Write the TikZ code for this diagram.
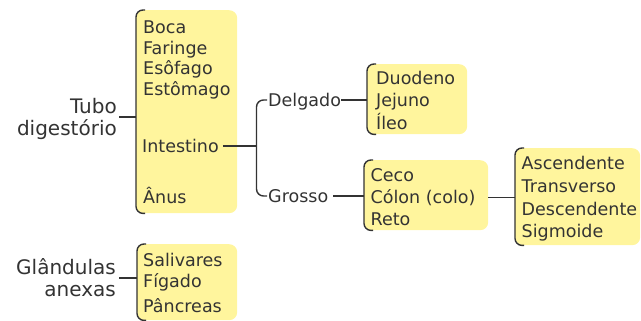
\documentclass[tikz,border=0pt]{standalone}
\usepackage{fontspec}
\setmainfont{DejaVu Sans}
\usetikzlibrary{calc}
\definecolor{boxyellow}{HTML}{FFF59D}
\definecolor{ink}{HTML}{333333}
\begin{document}
\begin{tikzpicture}[x=1pt,y=-1pt,
  ybox/.style={fill=boxyellow, rounded corners=8pt, inner sep=0pt, anchor=north west},
  brk/.style={draw=ink, line width=1.4pt, rounded corners=7pt},
  conn/.style={draw=ink, line width=1.4pt},
  txt/.style={anchor=west, inner sep=0pt, text height=12.8pt, text depth=0pt, text=ink, font=\fontsize{17.5}{20}\selectfont},
  lbl/.style={anchor=east, inner sep=0pt, text height=14.6pt, text depth=0pt, text=ink, font=\fontsize{20}{22}\selectfont}]
\useasboundingbox (0,0) rectangle (641,321);

% boxes
\node[ybox, minimum width=101pt, minimum height=203pt] (b1) at (136,10) {};
\node[ybox, minimum width=100pt, minimum height=70pt] (b2) at (367,64) {};
\node[ybox, minimum width=124pt, minimum height=70pt] (b3) at (364,160) {};
\node[ybox, minimum width=125pt, minimum height=97pt] (b4) at (515,148) {};
\node[ybox, minimum width=100pt, minimum height=76pt] (b5) at (137,244) {};

\foreach \b in {b1,b2,b3,b4,b5}{
  \draw[brk] ([xshift=9pt]\b.north west) -- (\b.north west) -- (\b.south west) -- ([xshift=9pt]\b.south west);
}

% box 1 texts
\node[txt] (boca) at (143,26.7) {Boca};
\node[txt] (far) at (143,47.7) {Faringe};
\node[txt] (eso) at (143,68.5) {Esôfago};
\node[txt] (est) at (143,89.3) {Estômago};
\node[txt] (int) at (142,146.2) {Intestino};
\node[txt] (anus) at (143,196.7) {Ânus};

% labels
\node[lbl] (tubo1) at (117,106) {Tubo};
\node[lbl] (tubo2) at (117,128) {digestório};
\node[lbl] (gla1) at (116,267) {Glândulas};
\node[lbl] (gla2) at (116,289) {anexas};

% intestine branches
\node[txt] (del) at (268,100) {Delgado};
\node[txt] (gro) at (268,196) {Grosso};

% box 2
\node[txt] (duo) at (376,78) {Duodeno};
\node[txt] (jej) at (376,100.5) {Jejuno};
\node[txt] (ile) at (376,123) {Íleo};

% box 3
\node[txt] (ceco) at (370.5,175.5) {Ceco};
\node[txt] (colon) at (370.5,197.5) {Cólon (colo)};
\node[txt] (reto) at (370.5,219.5) {Reto};

% box 4
\node[txt] (asc) at (521.5,163) {Ascendente};
\node[txt] (tra) at (521.5,186) {Transverso};
\node[txt] (des) at (521.5,209) {Descendente};
\node[txt] (sig) at (521.5,231.5) {Sigmoide};

% box 5
\node[txt] (sal) at (143,259.7) {Salivares};
\node[txt] (fig) at (143,281.5) {Fígado};
\node[txt] (pan) at (143,305.7) {Pâncreas};

% connectors
\coordinate (tubom) at ($(tubo1.south east)!0.5!(tubo2.north east)$);
\draw[conn] ([xshift=2pt]tubom) -- (tubom -| b1.west);
\coordinate (glam) at ($(gla1.south east)!0.5!(gla2.north east)$);
\draw[conn] ([xshift=3pt]glam) -- (glam -| b5.west);

\coordinate (fork) at (256.5,146.2);
\draw[conn] ([xshift=4pt]int.east) -- (int.east -| fork);
\draw[brk] ([xshift=-1pt]del.west) -| (fork) |- ([xshift=-1pt]gro.west);

\draw[conn] (del.east) -- (del.east -| b2.west);
\draw[conn] ([xshift=5pt]gro.east) -- (gro.east -| b3.west);
\draw[conn] (b3.east |- colon.east) -- (colon.east -| b4.west);
\end{tikzpicture}
\end{document}
